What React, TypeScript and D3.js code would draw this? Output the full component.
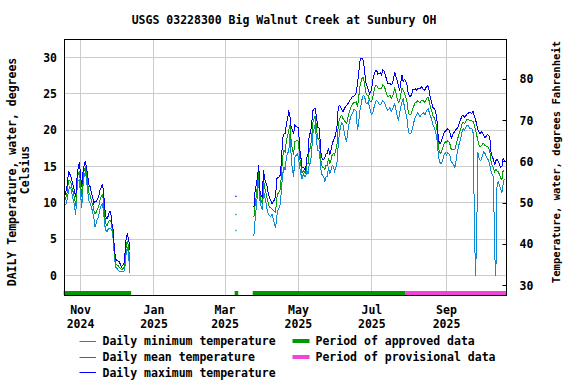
import React from "react";
import * as d3 from "d3";

const TITLE = "USGS 03228300 Big Walnut Creek at Sunbury OH";
const LEFT_LABEL = ["DAILY Temperature, water, degrees", "Celsius"];
const RIGHT_LABEL = "Temperature, water, degrees Fahrenheit";
const CELSIUS_TICKS = [0, 5, 10, 15, 20, 25, 30];
const FAHRENHEIT_TICKS = [30, 40, 50, 60, 70, 80];
const MONTH_TICKS = ["2024-11-01", "2025-01-01", "2025-03-01", "2025-05-01", "2025-07-01", "2025-09-01"];
const MONTH_NAMES = ["Nov", "Jan", "Mar", "May", "Jul", "Sep"];
const MONTH_YEARS = ["2024", "2025", "2025", "2025", "2025", "2025"];

// Segment 1: daily values starting 2024-10-19
const seg1Start = "2024-10-19";
const seg1Max = [11.0, 11.7, 12.5, 14.3, 14.0, 13.6, 12.9, 12.3, 11.6, 10.8, 13.3, 14.8, 15.6, 13.8, 12.2, 14.2, 15.2, 15.8, 14.8, 13.6, 12.5, 12.2, 11.3, 10.9, 9.9, 10.2, 10.2, 10.5, 10.8, 11.7, 12.0, 12.5, 11.8, 9.5, 8.1, 7.8, 8.2, 8.8, 8.8, 7.2, 6.4, 4.0, 2.3, 2.1, 2.0, 1.9, 1.6, 1.2, 1.4, 1.6, 3.2, 5.3, 5.7, 4.9, 3.5];
const seg1Mean = [10.4, 10.8, 11.6, 13.0, 13.1, 12.8, 12.0, 11.4, 10.6, 9.6, 12.5, 14.0, 14.4, 12.5, 10.8, 13.2, 14.5, 15.0, 14.0, 12.6, 11.4, 11.0, 10.3, 9.8, 9.0, 8.5, 8.7, 9.1, 9.4, 10.3, 10.8, 11.1, 10.4, 8.2, 7.1, 6.9, 7.3, 7.6, 7.6, 6.7, 5.8, 3.5, 1.7, 1.5, 1.4, 1.2, 1.0, 0.8, 0.9, 1.0, 2.3, 4.2, 4.8, 3.7, 1.9];
const seg1Min = [9.7, 9.9, 10.6, 11.6, 12.2, 12.0, 11.1, 10.4, 9.6, 8.3, 11.7, 13.1, 13.2, 11.2, 9.3, 12.2, 13.8, 14.3, 13.1, 11.5, 10.3, 9.9, 9.4, 8.8, 8.0, 6.7, 7.2, 7.8, 8.1, 9.0, 9.6, 9.8, 9.0, 7.0, 6.2, 6.0, 6.4, 6.5, 6.5, 6.2, 5.2, 3.0, 1.2, 1.0, 0.8, 0.6, 0.5, 0.5, 0.5, 0.5, 1.4, 3.2, 3.9, 2.6, 0.3];

// Isolated single day
const spotStart = "2025-03-10";
const spotMax = [10.9];
const spotMean = [8.4];
const spotMin = [6.2];

// Segment 2: daily values starting 2025-03-25
const seg2Start = "2025-03-25";
const seg2Max = [
  9.4, 11.7, 12.5, 13.6, 15.2, 11.7, 11.0, 10.8, 14.5, 13.3,
  12.8, 12.2, 11.3, 10.6, 10.4, 9.9, 10.2, 10.4, 10.8, 13.3,
  13.5, 13.6, 13.8, 16.3, 19.0, 19.5, 19.5, 20.9, 21.5, 22.7,
  21.8, 20.4, 20.0, 19.5, 20.7, 20.5, 20.4, 20.4, 17.5, 16.3,
  14.9, 14.9, 14.7, 14.5, 16.3, 16.8, 19.5, 19.5, 20.9, 22.7,
  22.9, 23.0, 21.8, 20.4, 20.4, 18.6, 16.3, 16.0, 15.9, 16.3,
  16.8, 16.8, 17.5, 16.6, 17.2, 18.0, 18.6, 18.9, 19.5, 20.5,
  23.0, 23.4, 23.2, 22.9, 22.5, 22.9, 23.2, 23.4, 23.6, 23.9,
  24.2, 24.4, 24.7, 24.7, 24.8, 25.2, 26.4, 27.8, 29.4, 29.9,
  29.9, 29.6, 28.0, 26.6, 26.0, 25.6, 25.0, 25.2, 26.0, 27.1,
  27.8, 28.2, 28.2, 27.7, 27.8, 27.9, 27.6, 28.3, 28.2, 27.7,
  27.1, 26.5, 26.4, 26.5, 26.2, 26.4, 27.0, 28.0, 27.4, 26.8,
  26.2, 25.4, 26.5, 27.6, 26.7, 27.0, 26.8, 26.4, 25.3, 24.7,
  24.6, 24.9, 25.6, 25.5, 25.7, 25.5, 25.7, 25.7, 25.7, 26.0,
  25.8, 25.6, 25.5, 25.9, 26.1, 26.0, 24.9, 24.2, 23.6, 23.0,
  23.0, 22.5, 21.5, 19.3, 18.2, 18.2, 18.7, 19.1, 19.6, 19.9,
  20.0, 20.2, 20.0, 19.6, 18.9, 19.3, 19.6, 19.9, 20.1, 20.3,
  20.6, 21.1, 21.6, 22.0, 22.0, 21.8, 22.0, 22.2, 22.3, 22.5,
  22.4, 22.3, 22.6, 22.0, 21.5, 20.9, 20.1, 19.7, 19.5, 19.8,
  19.6, 19.2, 18.9, 19.2, 19.4, 19.3, 18.9, 17.0, 16.3, 16.0,
  15.2, 15.8, 16.0, 15.7, 15.3, 14.9, 15.0, 16.1, 15.8
];
const seg2Mean = [
  8.0, 9.7, 11.0, 12.5, 14.2, 11.1, 10.3, 9.9, 13.1, 12.1,
  11.4, 10.6, 9.9, 9.4, 9.3, 9.2, 9.0, 8.8, 8.7, 10.7,
  11.3, 11.5, 11.9, 14.3, 16.5, 17.2, 17.0, 18.6, 19.2, 20.0,
  20.7, 18.4, 17.3, 16.6, 18.5, 18.5, 18.6, 18.4, 16.3, 15.2,
  14.1, 14.5, 14.2, 14.1, 15.4, 15.4, 17.5, 17.5, 19.1, 21.1,
  21.6, 22.0, 20.2, 18.8, 18.8, 17.3, 15.2, 14.9, 14.8, 14.6,
  15.2, 15.2, 16.2, 15.3, 15.9, 16.6, 16.8, 16.6, 17.2, 18.0,
  20.5, 21.5, 21.9, 22.0, 21.6, 21.4, 21.1, 20.9, 21.7, 22.4,
  22.9, 23.3, 23.6, 23.8, 23.8, 23.9, 23.2, 24.4, 26.0, 26.7,
  27.2, 27.2, 26.3, 25.2, 24.8, 24.8, 24.1, 23.9, 24.1, 24.8,
  25.6, 26.1, 26.2, 25.8, 25.7, 25.7, 25.7, 26.2, 26.1, 25.7,
  25.1, 24.6, 24.7, 24.8, 24.4, 24.6, 25.1, 25.9, 25.1, 24.4,
  23.8, 23.9, 24.9, 25.8, 25.5, 25.1, 24.7, 24.1, 22.8, 22.1,
  22.1, 22.4, 23.0, 23.4, 23.8, 23.8, 24.1, 23.9, 23.8, 24.1,
  24.1, 24.0, 23.8, 24.2, 24.5, 24.5, 23.6, 23.0, 22.5, 21.8,
  21.7, 21.1, 20.2, 18.2, 17.0, 16.8, 17.1, 17.6, 18.1, 18.4,
  18.3, 18.6, 18.4, 18.0, 17.3, 17.4, 17.4, 17.4, 18.0, 18.7,
  19.2, 19.8, 20.3, 20.9, 21.1, 20.9, 21.2, 21.5, 21.5, 21.4,
  21.3, 21.3, 21.2, 20.8, 20.0, 19.4, 18.6, 18.0, 17.7, 17.9,
  18.1, 18.1, 17.9, 17.8, 17.8, 17.6, 17.1, 15.7, 15.1, 14.8,
  14.3, 14.6, 14.4, 14.3, 13.9, 13.4, 13.2, 14.4, 14.6
];
const seg2Min = [
  5.5, 7.6, 9.5, 11.3, 13.1, 10.4, 9.5, 9.0, 11.7, 10.8,
  10.0, 9.0, 8.5, 8.2, 8.1, 8.5, 7.8, 7.2, 6.5, 8.1,
  9.0, 9.4, 9.9, 12.2, 14.0, 14.9, 14.5, 16.3, 16.8, 17.2,
  19.5, 16.3, 14.5, 13.6, 16.3, 16.5, 16.8, 16.3, 15.0, 14.0,
  13.3, 14.0, 13.6, 13.6, 14.5, 14.0, 15.4, 15.4, 17.2, 19.5,
  20.2, 20.9, 18.6, 17.2, 17.2, 15.9, 14.0, 13.8, 13.6, 12.9,
  13.6, 13.6, 14.9, 14.0, 14.5, 15.2, 15.0, 14.3, 14.8, 15.5,
  17.9, 19.5, 20.6, 21.0, 20.7, 19.8, 19.0, 18.4, 19.8, 20.8,
  21.6, 22.1, 22.4, 22.8, 22.8, 22.6, 20.0, 21.0, 22.6, 23.5,
  24.4, 24.8, 24.6, 23.8, 23.6, 24.0, 23.2, 22.5, 22.2, 22.5,
  23.3, 23.9, 24.1, 23.9, 23.6, 23.5, 23.7, 24.0, 23.9, 23.6,
  23.1, 22.7, 22.9, 23.1, 22.6, 22.8, 23.2, 23.7, 22.8, 22.0,
  21.3, 22.3, 23.2, 23.9, 24.3, 23.2, 22.5, 21.8, 20.3, 19.5,
  19.5, 19.8, 20.4, 21.2, 21.8, 22.1, 22.4, 22.1, 21.9, 22.1,
  22.3, 22.4, 22.1, 22.5, 22.8, 22.9, 22.2, 21.8, 21.3, 20.6,
  20.3, 19.7, 18.8, 17.0, 15.8, 15.4, 15.5, 16.0, 16.6, 16.9,
  16.6, 16.9, 16.8, 16.4, 15.6, 15.5, 15.2, 14.9, 15.9, 17.0,
  17.8, 18.4, 19.0, 19.8, 20.2, 20.0, 20.4, 20.7, 20.7, 20.3,
  20.2, 20.2, 19.8, 9.7, 0.0, 4.4, 17.0, 16.2, 15.8, 16.0,
  16.6, 17.0, 16.8, 16.4, 16.1, 15.8, 15.2, 14.3, 13.9, 13.5,
  3.1, 0.0, 12.7, 12.9, 12.4, 11.9, 11.4, 12.6, 13.3
];

const approvedStarts = ["2024-10-18", "2025-03-09", "2025-03-24"];
const approvedEnds = ["2024-12-13", "2025-03-12", "2025-07-29"];
const provisionalStarts = ["2025-07-29"];
const provisionalEnds = ["2025-10-21"];

const COLOR_MIN = "#0a8ad8";
const COLOR_MEAN = "#05a005";
const COLOR_MAX = "#0000ff";
const COLOR_APPROVED = "#009900";
const COLOR_PROVISIONAL = "#ee44d8";
const GRID = "#cccccc";
const FONT = "'DejaVu Sans Mono', 'Liberation Mono', monospace";

const DAY = 86400000;
const parse = (s: string) => {
  const [y, m, d] = s.split("-").map(Number);
  return new Date(Date.UTC(y, m - 1, d));
};

type Pt = { date: Date; v: number };
const toPoints = (start: string, vals: number[]): Pt[] => {
  const t0 = parse(start).getTime();
  return vals.map((v, i) => ({ date: new Date(t0 + i * DAY), v }));
};

const L = 64.5, R = 506.5, T = 39.5, B = 295.5;

export default function App() {
  const x = d3.scaleUtc()
    .domain([new Date(Date.UTC(2024, 9, 18, 16)), new Date(Date.UTC(2025, 9, 20, 20))])
    .range([L, R]);
  const y = d3.scaleLinear().domain([-2.75, 32.48]).range([B, T]);
  const yF = d3.scaleLinear().domain([27.58, 89.64]).range([B, T]);
  const snap = (v: number) => Math.floor(v) + 0.5;

  const line = d3.line<Pt>().x(d => x(d.date)).y(d => y(d.v));

  const series = [
    { color: COLOR_MIN, segs: [toPoints(seg1Start, seg1Min), toPoints(seg2Start, seg2Min)], spot: toPoints(spotStart, spotMin) },
    { color: COLOR_MEAN, segs: [toPoints(seg1Start, seg1Mean), toPoints(seg2Start, seg2Mean)], spot: toPoints(spotStart, spotMean) },
    { color: COLOR_MAX, segs: [toPoints(seg1Start, seg1Max), toPoints(seg2Start, seg2Max)], spot: toPoints(spotStart, spotMax) },
  ];

  const bars = [
    ...approvedStarts.map((s, i) => ({ s, e: approvedEnds[i], c: COLOR_APPROVED })),
    ...provisionalStarts.map((s, i) => ({ s, e: provisionalEnds[i], c: COLOR_PROVISIONAL })),
  ];

  const legendLeft = [
    { label: "Daily minimum temperature", color: COLOR_MIN, y: 341 },
    { label: "Daily mean temperature", color: COLOR_MEAN, y: 357 },
    { label: "Daily maximum temperature", color: COLOR_MAX, y: 372.5 },
  ];
  const legendRight = [
    { label: "Period of approved data", color: COLOR_APPROVED, y: 341 },
    { label: "Period of provisional data", color: COLOR_PROVISIONAL, y: 357 },
  ];

  return (
    <svg width={576} height={384} style={{ position: "absolute", left: 0, top: 0, background: "#fff" }}
      fontFamily={FONT} fontWeight="bold">
      <defs>
        <clipPath id="plotclip">
          <rect x={L} y={T} width={R - L} height={B - T} />
        </clipPath>
      </defs>
      <rect x={0} y={0} width={576} height={384} fill="#fff" />
      {/* grid */}
      {CELSIUS_TICKS.map(t => (
        <line key={"gy" + t} x1={L} x2={R} y1={snap(y(t))} y2={snap(y(t))} stroke={GRID} strokeWidth={1} />
      ))}
      {MONTH_TICKS.map(m => (
        <line key={"gx" + m} x1={snap(x(parse(m)))} x2={snap(x(parse(m)))} y1={T} y2={B} stroke={GRID} strokeWidth={1} />
      ))}
      {/* data */}
      <g clipPath="url(#plotclip)">
        {series.map((s, si) => (
          <g key={si}>
            {s.segs.map((seg, k) => (
              <path key={k} d={line(seg) || ""} fill="none" stroke={s.color} strokeWidth={1} shapeRendering="crispEdges" />
            ))}
            {s.spot.map((p, k) => (
              <rect key={"sp" + k} x={x(p.date) - 0.6} y={y(p.v) - 0.6} width={1.3} height={1.3} fill={s.color} />
            ))}
          </g>
        ))}
      </g>
      {/* approval bars */}
      {bars.map((b, i) => (
        <rect key={"bar" + i} x={x(parse(b.s))} y={291} width={x(parse(b.e)) - x(parse(b.s))} height={4} fill={b.c} />
      ))}
      {/* frame */}
      <rect x={L} y={T} width={R - L} height={B - T} fill="none" stroke="#000" strokeWidth={1} />
      {/* right ticks */}
      {FAHRENHEIT_TICKS.map(t => (
        <line key={"rt" + t} x1={R - 4} x2={R} y1={snap(yF(t))} y2={snap(yF(t))} stroke="#000" strokeWidth={1} />
      ))}
      {/* left tick labels */}
      {CELSIUS_TICKS.map(t => (
        <text key={"ly" + t} x={57} y={y(t) + 4} textAnchor="end" fontSize={11.5} fill="#000">{t}</text>
      ))}
      {/* right tick labels */}
      {FAHRENHEIT_TICKS.map(t => (
        <text key={"ry" + t} x={519.5} y={yF(t) + 4} textAnchor="start" fontSize={11.5} fill="#000">{t}</text>
      ))}
      {/* x labels */}
      {MONTH_TICKS.map((m, i) => (
        <g key={"xl" + m}>
          <text x={x(parse(m))} y={314} textAnchor="middle" fontSize={11.5} fill="#000">{MONTH_NAMES[i]}</text>
          <text x={x(parse(m))} y={327.5} textAnchor="middle" fontSize={11.5} fill="#000">{MONTH_YEARS[i]}</text>
        </g>
      ))}
      {/* title */}
      <text x={284} y={24} textAnchor="middle" fontSize={11.5} fill="#000">{TITLE}</text>
      {/* axis titles */}
      <text transform="translate(15.5,172) rotate(-90)" textAnchor="middle" fontSize={11.5} fill="#000">{LEFT_LABEL[0]}</text>
      <text transform="translate(28.5,170) rotate(-90)" textAnchor="middle" fontSize={11.5} fill="#000">{LEFT_LABEL[1]}</text>
      <text transform="translate(560,162) rotate(-90)" textAnchor="middle" fontSize={10.6} fill="#000">{RIGHT_LABEL}</text>
      {/* legend */}
      {legendLeft.map(l => (
        <g key={l.label}>
          <rect x={79.5} y={Math.floor(l.y)} width={16.5} height={1} fill={l.color} />
          <text x={102.5} y={l.y + 4} fontSize={11.5} fill="#000">{l.label}</text>
        </g>
      ))}
      {legendRight.map(l => (
        <g key={l.label}>
          <rect x={292.5} y={l.y - 2} width={17} height={4} fill={l.color} />
          <text x={315.5} y={l.y + 4} fontSize={11.5} fill="#000">{l.label}</text>
        </g>
      ))}
    </svg>
  );
}
